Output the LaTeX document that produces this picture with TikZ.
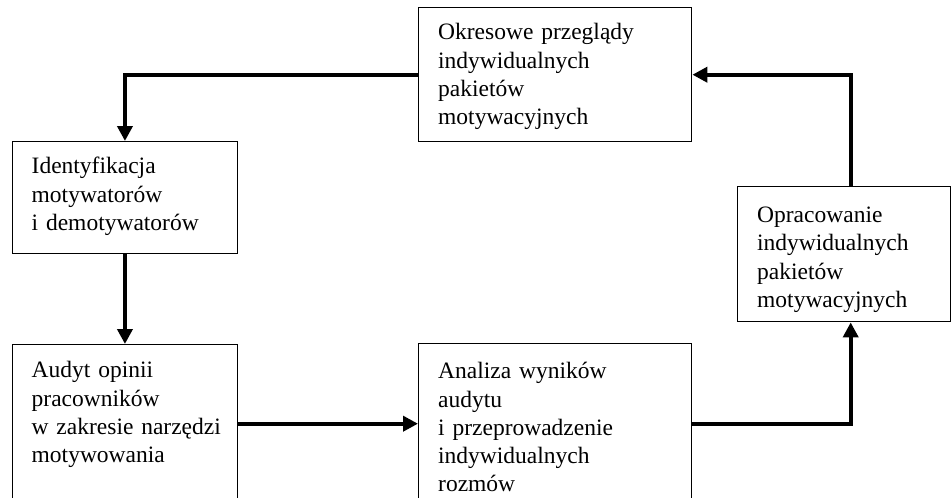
\documentclass[tikz,border=0pt]{standalone}
\usepackage{fontspec}
\setmainfont{Liberation Serif}
\usepackage{tikz}
\usetikzlibrary{arrows.meta,positioning}

\begin{document}
\begin{tikzpicture}[x=1pt, y=1pt, >={Triangle[length=15pt,width=15pt]},
    stepbox/.style={draw, line width=1.4pt, anchor=north west, inner xsep=19.5pt, inner ysep=0pt,
        align=left, font=\fontsize{23.5}{28.3}\selectfont},
    flow/.style={line width=4pt, ->}]
    % Frame
    \useasboundingbox (0,0) rectangle (951,-498);
    \clip (0,0) rectangle (951,-498);

    % Boxes
    \node[stepbox, text width=234pt, text height=32pt, text depth=102pt] (okres) at (418,-7)
        {Okresowe przeglądy\\indywidualnych\\pakietów\\motywacyjnych};
    \node[stepbox, text width=186.5pt, text height=32pt, text depth=80pt] (ident) at (11.5,-141)
        {Identyfikacja\\motywatorów\\i demotywatorów};
    \node[stepbox, text width=186.5pt, text height=33pt, text depth=125pt] (audyt) at (11.5,-344)
        {Audyt opinii\\pracowników\\\mbox{w zakresie narzędzi}\\motywowania};
    \node[stepbox, text width=234pt, text height=35pt, text depth=125pt] (analiza) at (418,-343)
        {Analiza wyników\\audytu\\i przeprowadzenie\\indywidualnych\\rozmów};
    \node[stepbox, text width=174pt, text height=35.7pt, text depth=99.3pt] (oprac) at (737,-186)
        {Opracowanie\\indywidualnych\\pakietów\\motywacyjnych};

    % Arrows
    \draw[flow] (okres.west) -| (ident.north);
    \draw[flow] (ident.south) -- (audyt.north);
    \draw[flow] (audyt.east) -- (analiza.west);
    \draw[flow] (analiza.east) -| ([xshift=6.5pt]oprac.south);
    \draw[flow] ([xshift=6.5pt]oprac.north) |- (okres.east);
\end{tikzpicture}
\end{document}
